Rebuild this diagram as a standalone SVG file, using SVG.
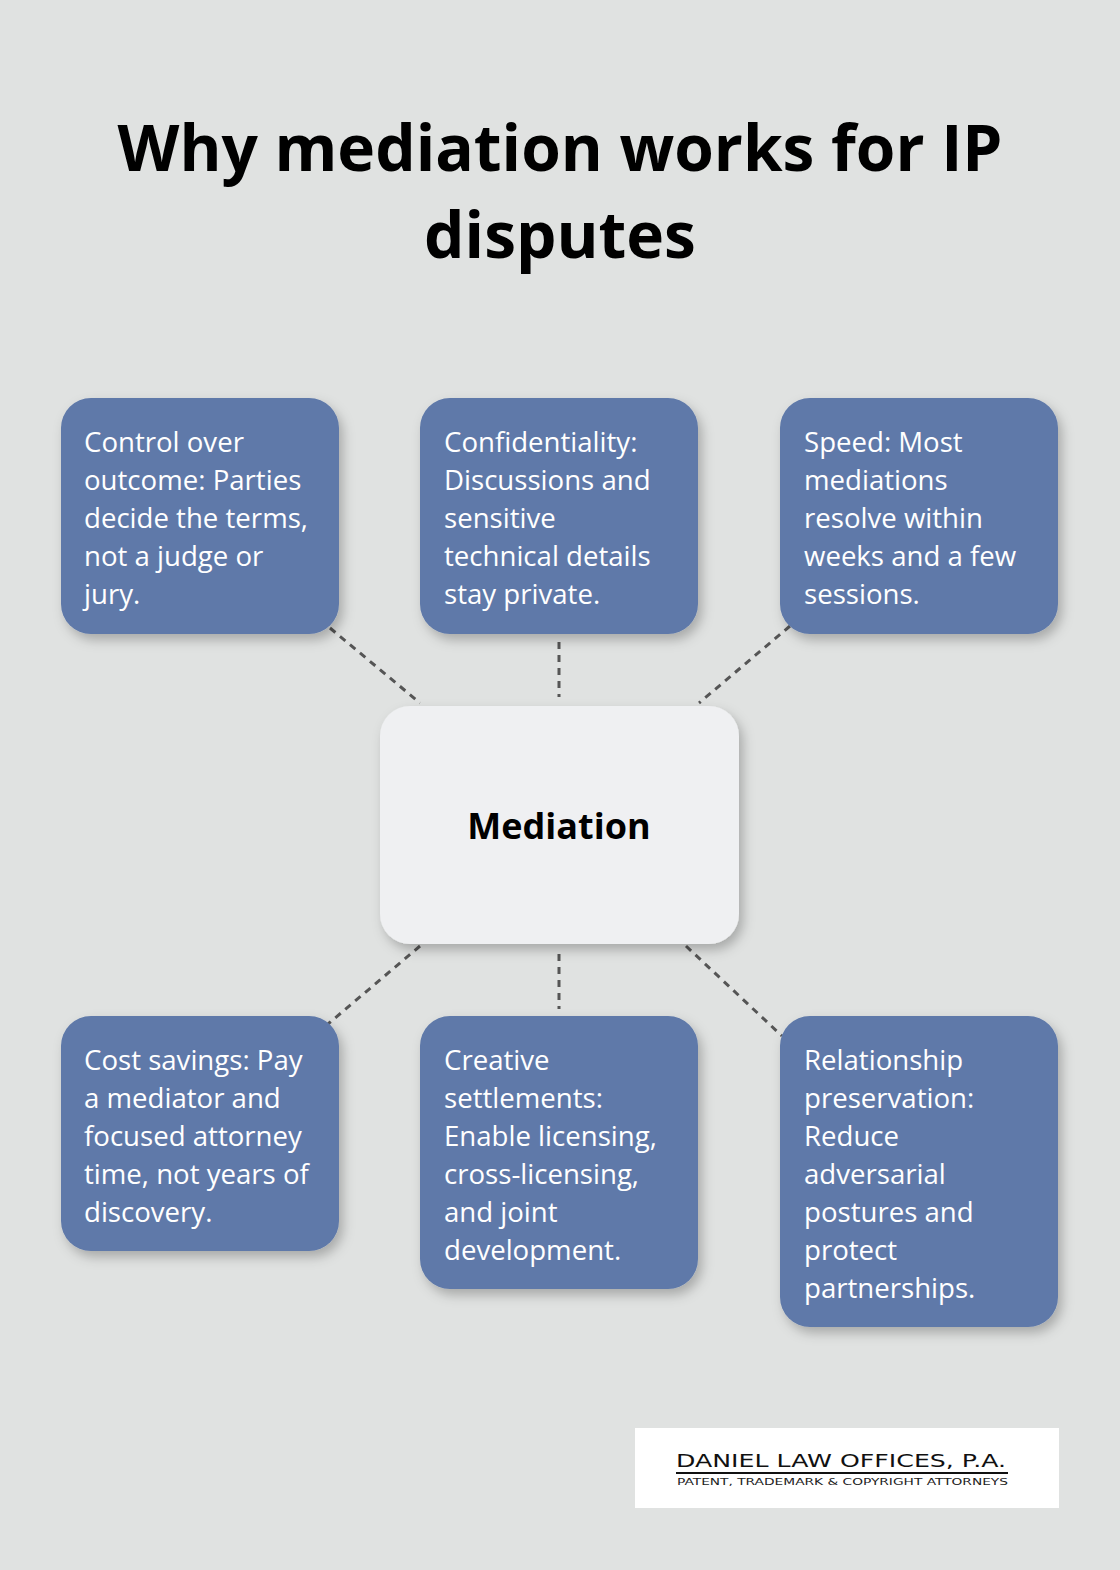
<svg xmlns="http://www.w3.org/2000/svg" width="1120" height="1570" viewBox="0 0 1120 1570">
<defs>
<filter id="sh" x="-20%" y="-20%" width="140%" height="140%"><feDropShadow dx="4" dy="6" stdDeviation="6" flood-color="#000" flood-opacity="0.25"/></filter>
<style>
.n{fill:#5f79a9;filter:url(#sh)}
.t{font-family:"Open Sans","Noto Sans",sans-serif;font-size:27.6px;fill:#fff}
.c{stroke:#555;stroke-width:3;stroke-dasharray:7,6;fill:none}
</style>
</defs>
<rect width="1120" height="1570" fill="#e0e2e1"/>
<text x="560" y="171" text-anchor="middle" font-family="Open Sans,sans-serif" font-weight="bold" font-size="64" fill="#000">Why mediation works for IP</text>
<text x="560" y="258" text-anchor="middle" font-family="Open Sans,sans-serif" font-weight="bold" font-size="64" fill="#000">disputes</text>
<g id="connectors">
<line class="c" x1="330" y1="628" x2="420" y2="703"/>
<line class="c" x1="559" y1="642" x2="559" y2="697"/>
<line class="c" x1="790" y1="626" x2="699" y2="703"/>
<line class="c" x1="420" y1="946" x2="328" y2="1024"/>
<line class="c" x1="559" y1="954" x2="559" y2="1009"/>
<line class="c" x1="686" y1="946" x2="782" y2="1036"/>
</g>
<g id="center"><rect x="380" y="706" width="359" height="238" rx="30" fill="#eff0f2" filter="url(#sh)"/>
<text x="559" y="839" text-anchor="middle" font-family="Open Sans,sans-serif" font-weight="bold" font-size="36" fill="#000">Mediation</text></g>
<g id="n1"><rect class="n" x="61" y="398" width="278" height="236" rx="30"/>
<text class="t" x="84" y="452">Control over<tspan x="84" dy="38">outcome: Parties</tspan><tspan x="84" dy="38">decide the terms,</tspan><tspan x="84" dy="38">not a judge or</tspan><tspan x="84" dy="38">jury.</tspan></text></g>
<g id="n2"><rect class="n" x="420" y="398" width="278" height="236" rx="30"/>
<text class="t" x="444" y="452">Confidentiality:<tspan x="444" dy="38">Discussions and</tspan><tspan x="444" dy="38">sensitive</tspan><tspan x="444" dy="38">technical details</tspan><tspan x="444" dy="38">stay private.</tspan></text></g>
<g id="n3"><rect class="n" x="780" y="398" width="278" height="236" rx="30"/>
<text class="t" x="804" y="452">Speed: Most<tspan x="804" dy="38">mediations</tspan><tspan x="804" dy="38">resolve within</tspan><tspan x="804" dy="38">weeks and a few</tspan><tspan x="804" dy="38">sessions.</tspan></text></g>
<g id="n4"><rect class="n" x="61" y="1016" width="278" height="235" rx="30"/>
<text class="t" x="84" y="1070">Cost savings: Pay<tspan x="84" dy="38">a mediator and</tspan><tspan x="84" dy="38">focused attorney</tspan><tspan x="84" dy="38">time, not years of</tspan><tspan x="84" dy="38">discovery.</tspan></text></g>
<g id="n5"><rect class="n" x="420" y="1016" width="278" height="273" rx="30"/>
<text class="t" x="444" y="1070">Creative<tspan x="444" dy="38">settlements:</tspan><tspan x="444" dy="38">Enable licensing,</tspan><tspan x="444" dy="38">cross-licensing,</tspan><tspan x="444" dy="38">and joint</tspan><tspan x="444" dy="38">development.</tspan></text></g>
<g id="n6"><rect class="n" x="780" y="1016" width="278" height="311" rx="30"/>
<text class="t" x="804" y="1070">Relationship<tspan x="804" dy="38">preservation:</tspan><tspan x="804" dy="38">Reduce</tspan><tspan x="804" dy="38">adversarial</tspan><tspan x="804" dy="38">postures and</tspan><tspan x="804" dy="38">protect</tspan><tspan x="804" dy="38">partnerships.</tspan></text></g>
<g id="logo"><rect x="635" y="1428" width="424" height="80" fill="#fff"/>
<text x="676" y="1467" textLength="330" lengthAdjust="spacingAndGlyphs" font-family="DejaVu Sans,sans-serif" font-size="17" fill="#111">DANIEL LAW OFFICES, P.A.</text>
<line x1="676" y1="1473" x2="1008" y2="1473" stroke="#111" stroke-width="2"/>
<text x="677" y="1485" textLength="331" lengthAdjust="spacingAndGlyphs" font-family="DejaVu Sans,sans-serif" font-size="9" fill="#222">PATENT, TRADEMARK &amp; COPYRIGHT ATTORNEYS</text></g>
</svg>
